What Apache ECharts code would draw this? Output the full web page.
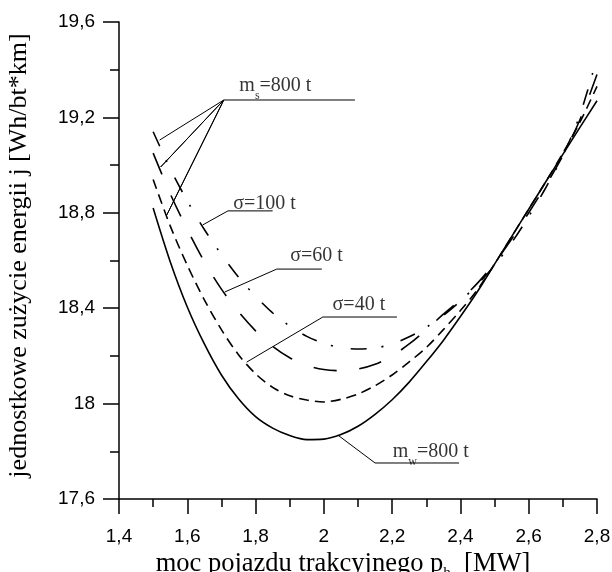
<!DOCTYPE html>
<html><head><meta charset="utf-8">
<script src="https://cdn.jsdelivr.net/npm/echarts@6/dist/echarts.min.js"></script>
<style>html,body{margin:0;padding:0;background:#fff}#c{width:612px;height:572px}</style>
</head><body><div id="c"></div>
<script>
// x values (MW)
const xValues = [1.5,1.55,1.6,1.65,1.7,1.75,1.8,1.85,1.9,1.95,2.0,2.05,2.1,2.15,2.2,2.25,2.3,2.35,2.4,2.45,2.5,2.55,2.6,2.65,2.7,2.75,2.8];
// m_w = 800 t (solid)
const mw800 = [18.82,18.595,18.405,18.25,18.12,18.02,17.945,17.897,17.866,17.849,17.851,17.87,17.905,17.955,18.016,18.09,18.175,18.265,18.365,18.47,18.585,18.70,18.815,18.93,19.045,19.158,19.27];
// sigma = 40 t (short dash)
const sigma40 = [18.94,18.745,18.58,18.435,18.31,18.205,18.125,18.068,18.033,18.015,18.007,18.018,18.04,18.075,18.12,18.175,18.235,18.31,18.39,18.478,18.585,18.70,18.815,18.93,19.05,19.18,19.33];
// sigma = 60 t (long dash)
const sigma60 = [19.05,18.88,18.73,18.595,18.48,18.385,18.305,18.24,18.192,18.16,18.143,18.138,18.145,18.165,18.20,18.25,18.31,18.375,18.435,18.505,18.59,18.69,18.80,18.915,19.04,19.19,19.38];
// sigma = 100 t (dash-dot)
const sigma100 = [19.14,18.985,18.85,18.73,18.625,18.53,18.45,18.38,18.325,18.282,18.252,18.235,18.229,18.233,18.25,18.28,18.32,18.37,18.43,18.50,18.58,18.675,18.785,18.905,19.04,19.21,19.45];

// annotation leader lines (data coordinates)
const leaderMs = [[1.519,19.105],[1.707,19.273],[1.522,18.992],[1.707,19.273],[1.540,18.791],[1.707,19.273],[2.091,19.273]];
const leader100 = [[1.645,18.749],[1.719,18.808],[1.850,18.808]];
const leader60 = [[1.710,18.468],[1.862,18.564],[1.994,18.564]];
const leader40 = [[1.774,18.174],[1.997,18.363],[2.214,18.363]];
const leaderMw = [[2.041,17.868],[2.150,17.751],[2.396,17.751]];
// annotation texts: [x, y, text]
const annotations = [
  [1.754, 19.262, '{t|m}{s|s}{t|=800 t}'],
  [1.736, 18.770, '{t|σ=100 t}'],
  [1.903, 18.551, '{t|σ=60 t}'],
  [2.027, 18.346, '{t|σ=40 t}'],
  [2.203, 17.730, '{t|m}{s|w}{t|=800 t}']
];

const fmt = v => String(+(+v).toFixed(1)).replace('.', ',');
const zip = ys => xValues.map((x,i)=>[x, ys[i]]);
const black = '#000';
const curve = (name, ys, type) => ({
  name, type:'line', data: zip(ys), smooth: 0.3, symbol:'none', silent:true,
  lineStyle:{color:black, width:1.6, type: type}, z:3
});
const leader = (d) => ({
  type:'line', data:d, symbol:'none', silent:true, smooth:false,
  lineStyle:{color:black, width:1}, z:2
});

const chart = echarts.init(document.getElementById('c'), null, {renderer:'canvas'});
const axisCommon = {
  type:'value',
  axisLine:{show:true, onZero:false, lineStyle:{color:black, width:1.5}},
  splitLine:{show:false}, minorSplitLine:{show:false},
  axisLabel:{color:black, fontFamily:'Liberation Sans', fontSize:19, formatter: fmt},
  nameLocation:'middle'
};
chart.setOption({
  animation:false,
  backgroundColor:'#fff',
  grid:{left:119, right:15, top:22, bottom:73, containLabel:false, outerBoundsMode:'none'},
  xAxis: Object.assign({}, axisCommon, {
    min:1.4, max:2.8, interval:0.2,
    axisTick:{show:true, length:15, lineStyle:{color:black, width:1.5}},
    minorTick:{show:true, splitNumber:2, length:8, lineStyle:{color:black, width:1.5}},
    axisLabel:Object.assign({}, axisCommon.axisLabel, {margin:28}),
    name:'{t|moc pojazdu trakcyjnego p}{s|h}{t|  [MW]}',
    nameGap:45,
    nameTextStyle:{padding:[0,30,0,0], rich:{
      t:{fontFamily:'Liberation Serif', fontSize:26.5, color:black, verticalAlign:'top', lineHeight:30},
      s:{fontFamily:'Liberation Serif', fontSize:15, color:black, verticalAlign:'bottom', lineHeight:15}
    }}
  }),
  yAxis: Object.assign({}, axisCommon, {
    min:17.6, max:19.6, interval:0.4,
    axisTick:{show:true, length:16, lineStyle:{color:black, width:1.5}},
    minorTick:{show:true, splitNumber:2, length:9, lineStyle:{color:black, width:1.5}},
    axisLabel:Object.assign({}, axisCommon.axisLabel, {margin:24}),
    name:'jednostkowe zużycie energii j [Wh/bt*km]',
    nameGap:87,
    nameTextStyle:{fontFamily:'Liberation Serif', fontSize:26, color:black, padding:[0,0,0,10]}
  }),
  series:[
    curve('m_w=800 t', mw800, 'solid'),
    curve('σ=40 t', sigma40, [10,6]),
    curve('σ=60 t', sigma60, [23,23]),
    curve('σ=100 t', sigma100, [16,15,2,18]),
    leader(leaderMs), leader(leader100), leader(leader60), leader(leader40), leader(leaderMw),
    {
      type:'scatter', data:annotations, symbolSize:1, silent:true,
      itemStyle:{color:'rgba(0,0,0,0)'}, z:4,
      label:{show:true, position:[0,0], align:'left', verticalAlign:'bottom',
        formatter: p => p.data[2],
        rich:{
          t:{fontFamily:'Liberation Serif', fontSize:20, color:black, verticalAlign:'top', lineHeight:26},
          s:{fontFamily:'Liberation Serif', fontSize:12, color:black, verticalAlign:'bottom', lineHeight:12}
        }
      }
    }
  ]
});
</script>
</body></html>
